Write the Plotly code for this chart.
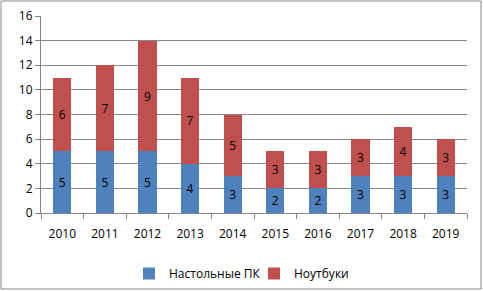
import plotly.graph_objects as go

years = ["2010", "2011", "2012", "2013", "2014", "2015", "2016", "2017", "2018", "2019"]
desktops = [5, 5, 5, 4, 3, 2, 2, 3, 3, 3]
laptops = [6, 7, 9, 7, 5, 3, 3, 3, 4, 3]
yticks = [0, 2, 4, 6, 8, 10, 12, 14, 16]

W, H = 483, 291
L, R, T, B = 41, 16, 16, 78
pw, ph = W - L - R, H - T - B

font = dict(family="Open Sans, Liberation Sans, sans-serif", size=12, color="#000000")

fig = go.Figure()
fig.add_trace(go.Bar(x=years, y=desktops, name="Настольные ПК", marker_color="#4F81BD",
                     text=desktops, textposition="inside", insidetextanchor="middle",
                     textfont=dict(color="#000000", size=12), marker_line_width=0))
fig.add_trace(go.Bar(x=years, y=laptops, name="Ноутбуки", marker_color="#C0504D",
                     text=laptops, textposition="inside", insidetextanchor="middle",
                     textfont=dict(color="#000000", size=12), marker_line_width=0))

def px(x):
    return (x - L) / pw

def py(y):
    return (H - B - y) / ph

fig.update_layout(
    width=W, height=H, barmode="stack", bargap=0.57,
    margin=dict(l=L, r=R, t=T, b=B, autoexpand=False),
    paper_bgcolor="white", plot_bgcolor="white",
    font=font, uniformtext=dict(minsize=9, mode="show"),
    legend=dict(orientation="h", x=0.5, xanchor="center", yref="container",
                y=1 - 259 / H, yanchor="top", itemwidth=30,
                entrywidth=80, entrywidthmode="pixels",
                font=dict(size=12), traceorder="normal"),
    xaxis=dict(showline=True, linecolor="#868686", ticks="outside", tickcolor="#868686",
               ticklen=5, tickson="boundaries", showgrid=False, tickfont=dict(size=12),
               ticklabelstandoff=10, automargin=False),
    yaxis=dict(range=[0, 16], tickvals=yticks, showline=True, linecolor="#868686",
               ticks="outside", tickcolor="#868686", ticklen=5, gridcolor="#868686",
               gridwidth=1, zeroline=False, tickfont=dict(size=12), automargin=False),
    shapes=[dict(type="rect", xref="paper", yref="paper",
                 x0=px(1), x1=px(481), y0=py(289), y1=py(1),
                 line=dict(color="#868686", width=1), fillcolor="rgba(0,0,0,0)")],
)

fig.write_html("out.html")
